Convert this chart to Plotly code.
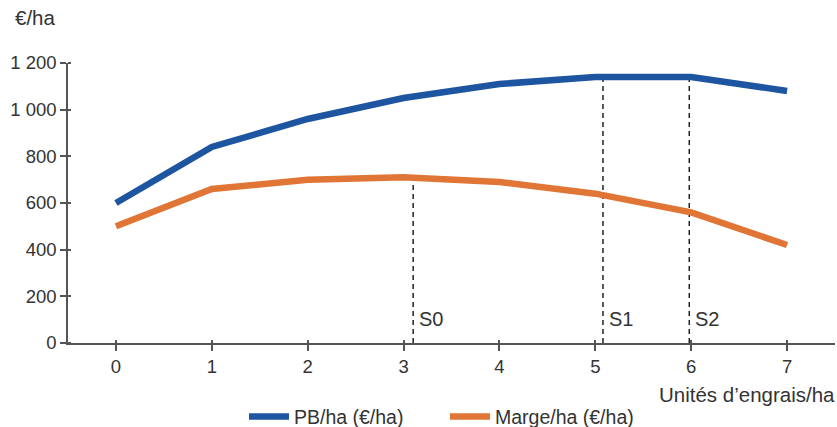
import plotly.graph_objects as go

x_units = [0, 1, 2, 3, 4, 5, 6, 7]
pb_ha = [600, 840, 960, 1050, 1110, 1140, 1140, 1080]
marge_ha = [500, 660, 700, 710, 690, 640, 560, 420]

seuil_labels = ["S0", "S1", "S2"]
seuil_x = [3.1, 5.08, 5.98]
seuil_top = [710, 1140, 1140]
seuil_label_y = 105

y_ticks = [0, 200, 400, 600, 800, 1000, 1200]
y_tick_text = ["0", "200", "400", "600", "800", "1 000", "1 200"]

blue = "#1d55a0"
orange = "#e07535"
ink = "#333333"
axis_col = "#555555"
font_family = "Liberation Sans, Arial, Helvetica, sans-serif"

fig = go.Figure()

for sx, st in zip(seuil_x, seuil_top):
    fig.add_trace(go.Scatter(
        x=[sx, sx], y=[0, st], mode="lines",
        line=dict(color="#222222", width=1.5, dash="5px,4px"),
        showlegend=False, hoverinfo="skip"))

fig.add_trace(go.Scatter(
    x=x_units, y=pb_ha, mode="lines", name="PB/ha (€/ha)",
    line=dict(color=blue, width=6.5)))
fig.add_trace(go.Scatter(
    x=x_units, y=marge_ha, mode="lines", name="Marge/ha (€/ha)",
    line=dict(color=orange, width=6.5)))

for lab, sx in zip(seuil_labels, seuil_x):
    fig.add_annotation(x=sx, y=seuil_label_y, text=lab, showarrow=False,
                       xanchor="left", yanchor="middle", xshift=4,
                       font=dict(size=20, color=ink, family=font_family))

fig.add_annotation(x=0, y=1, xref="paper", yref="paper", text="€/ha",
                   showarrow=False, xanchor="left", yanchor="middle",
                   xshift=-55, yshift=46,
                   font=dict(size=20.5, color=ink, family=font_family))
fig.add_annotation(x=1, y=0, xref="paper", yref="paper",
                   text="Unités d’engrais/ha", showarrow=False,
                   xanchor="right", yanchor="middle", xshift=2, yshift=-51,
                   font=dict(size=20.5, color=ink, family=font_family))

fig.update_layout(
    width=837, height=427,
    margin=dict(l=68, r=2, t=63, b=84),
    paper_bgcolor="white", plot_bgcolor="white",
    font=dict(family=font_family, size=18, color=ink),
    legend=dict(orientation="h", x=0.4915, xanchor="center",
                yref="container", y=0.024, yanchor="middle",
                font=dict(size=19.5, color=ink),
                itemwidth=40, entrywidth=146, tracegroupgap=0),
    showlegend=True,
)
fig.update_xaxes(range=[-0.5, 7.5], tickvals=x_units, showgrid=False,
                 zeroline=False, showline=True, linecolor=axis_col,
                 linewidth=1.5, ticks="outside", ticklen=6, tickwidth=1.5,
                 tickcolor=axis_col, tickfont=dict(size=18.5, color=ink),
                 minor=dict(tickvals=x_units, ticks="inside", ticklen=3,
                            tickwidth=1.5, tickcolor=axis_col))
fig.update_yaxes(range=[0, 1200], tickvals=y_ticks, ticktext=y_tick_text,
                 showgrid=False, zeroline=False, showline=True,
                 linecolor=axis_col, linewidth=1.5, ticks="outside",
                 ticklen=6, tickwidth=1.5, tickcolor=axis_col,
                 tickfont=dict(size=18.5, color=ink),
                 minor=dict(tickvals=y_ticks, ticks="inside", ticklen=3,
                            tickwidth=1.5, tickcolor=axis_col))

fig.write_html("out.html", config={"displayModeBar": False},
               post_script="document.body.style.margin='0';")
